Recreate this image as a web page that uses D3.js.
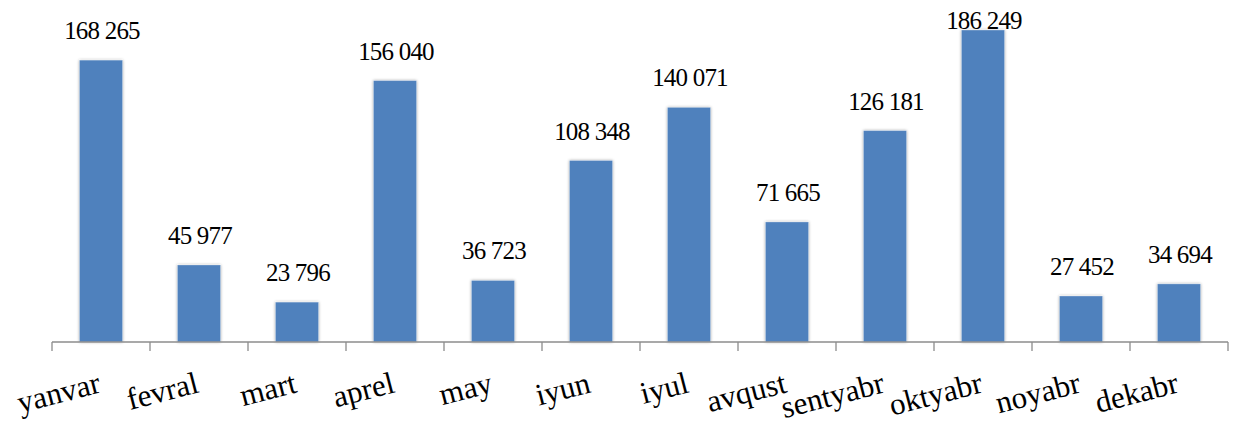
<!DOCTYPE html>
<html>
<head>
<meta charset="utf-8">
<script src="https://cdn.jsdelivr.net/npm/d3@7"></script>
</head>
<body style="margin:0">
<svg id="chart" width="1235" height="428" style="font-family: 'Liberation Serif'"></svg>
<script>
// Monthly totals
const months = ["yanvar", "fevral", "mart", "aprel", "may", "iyun",
                "iyul", "avqust", "sentyabr", "oktyabr", "noyabr", "dekabr"];
const values = [168265, 45977, 23796, 156040, 36723, 108348,
                140071, 71665, 126181, 186249, 27452, 34694];

const svg = d3.select("#chart");
const axisY = 342;
const left = 52, right = 1228;

const x = d3.scaleBand()
  .domain(months)
  .range([left, right])
  .paddingInner(0.56)
  .paddingOuter(0.28);

const y = d3.scaleLinear()
  .domain([0, 200000])
  .range([axisY, 7]);

const fmt = d3.formatLocale({ decimal: ".", thousands: " ", grouping: [3], currency: ["", ""] }).format(",d");

// soft shadow around the bars
const defs = svg.append("defs");
const f = defs.append("filter").attr("id", "barShadow")
  .attr("x", "-30%").attr("y", "-10%").attr("width", "160%").attr("height", "120%");
f.append("feGaussianBlur").attr("in", "SourceAlpha").attr("stdDeviation", 1.6).attr("result", "blur");
f.append("feComponentTransfer").attr("in", "blur").attr("result", "soft")
  .append("feFuncA").attr("type", "linear").attr("slope", 0.35);
const merge = f.append("feMerge");
merge.append("feMergeNode").attr("in", "soft");
merge.append("feMergeNode").attr("in", "SourceGraphic");

// bars
svg.selectAll("rect.bar")
  .data(months)
  .join("rect")
  .attr("class", "bar")
  .attr("x", d => x(d))
  .attr("y", (d, i) => y(values[i]))
  .attr("width", x.bandwidth())
  .attr("height", (d, i) => axisY - y(values[i]))
  .attr("fill", "#4F81BD")
  .attr("stroke", "#ffffff")
  .attr("stroke-opacity", 0.35)
  .attr("stroke-width", 0.8)
  .attr("filter", "url(#barShadow)");

// category axis: baseline plus ticks at band boundaries
const step = x.step();
const boundaries = d3.range(months.length + 1).map(i => left + i * step);
svg.append("line")
  .attr("x1", left).attr("x2", right)
  .attr("y1", axisY).attr("y2", axisY)
  .attr("stroke", "#8c8c8c").attr("stroke-width", 1.3);
svg.selectAll("line.tick")
  .data(boundaries)
  .join("line")
  .attr("class", "tick")
  .attr("x1", d => d).attr("x2", d => d)
  .attr("y1", axisY).attr("y2", axisY + 9)
  .attr("stroke", "#8c8c8c").attr("stroke-width", 1.3);

// category labels, tilted
svg.selectAll("text.cat")
  .data(months)
  .join("text")
  .attr("class", "cat")
  .attr("transform", d => `translate(${x(d) + x.bandwidth() / 2 + 1},392) rotate(-14.5)`)
  .attr("text-anchor", "end")
  .style("font-family", d => `"Liberation Serif"`)
  .style("font-size", "31px")
  .text(d => d);

// value labels above bars
svg.selectAll("text.val")
  .data(months)
  .join("text")
  .attr("class", "val")
  .attr("x", d => x(d) + x.bandwidth() / 2 + 1)
  .attr("y", (d, i) => Math.max(y(values[i]) - 21, 29))
  .attr("text-anchor", "middle")
  .style("font-family", d => `"Liberation Serif"`)
  .style("font-size", "25px")
  .style("letter-spacing", "-0.8px")
  .text((d, i) => fmt(values[i]));
</script>
</body>
</html>
